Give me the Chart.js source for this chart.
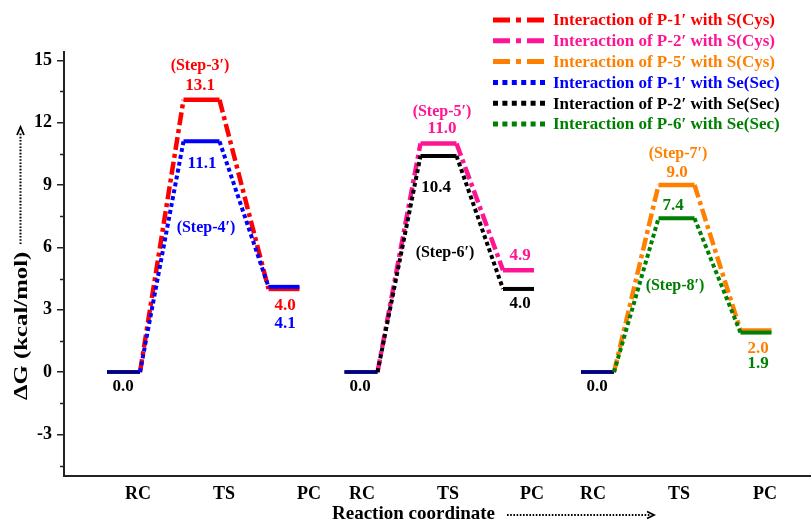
<!DOCTYPE html>
<html>
<head>
<meta charset="utf-8">
<script src="https://cdn.jsdelivr.net/npm/chart.js@4.4.1/dist/chart.umd.min.js"></script>
<style>
  body { margin: 0; background: #fff; }
  #wrap { width: 811px; height: 524px; }
</style>
</head>
<body>
<div id="wrap"><canvas id="myChart"></canvas></div>
<script>
// x axis is an arbitrary reaction coordinate
var categories = ['RC', 'TS', 'PC', 'RC', 'TS', 'PC', 'RC', 'TS', 'PC'];
var categoryPos = [7.4, 16.0, 24.5, 29.8, 38.4, 46.8, 52.9, 61.5, 70.1];
var levelPos = [[5.95, 13.75, 22.0], [29.7, 37.45, 45.45], [53.35, 61.25, 69.2]];
var yTicks = [-3, 0, 3, 6, 9, 12, 15];
var yMinor = [-4.5, -1.5, 1.5, 4.5, 7.5, 10.5, 13.5];

// dG (kcal/mol) at RC, TS, PC
var p1Cys = [0.0, 13.1, 4.0];
var p2Cys = [0.0, 11.0, 4.9];
var p5Cys = [0.0, 9.0, 2.0];
var p1Sec = [0.0, 11.1, 4.1];
var p2Sec = [0.0, 10.4, 4.0];
var p6Sec = [0.0, 7.4, 1.9];

var halfWidth = [1.65, 1.8, 1.55];
var navy = '#000080';
var FONT = '"Liberation Serif", "Times New Roman", serif';

var series = [
    { label: 'Interaction of P-1\u2032 with S(Cys)', values: p1Cys, group: 0, color: '#ff0000', dotted: false },
    { label: 'Interaction of P-2\u2032 with S(Cys)', values: p2Cys, group: 1, color: '#ff1493', dotted: false },
    { label: 'Interaction of P-5\u2032 with S(Cys)', values: p5Cys, group: 2, color: '#ff8000', dotted: false },
    { label: 'Interaction of P-1\u2032 with Se(Sec)', values: p1Sec, group: 0, color: '#0000ff', dotted: true },
    { label: 'Interaction of P-2\u2032 with Se(Sec)', values: p2Sec, group: 1, color: '#000000', dotted: true },
    { label: 'Interaction of P-6\u2032 with Se(Sec)', values: p6Sec, group: 2, color: '#008000', dotted: true }
];

// text labels: [text, colour, x, dG, size]
var notes = [
    ['(Step-3\u2032)', '#ff0000', 13.6, 14.71, 16],
    ['13.1', '#ff0000', 13.6, 13.80, 17],
    ['11.1', '#0000ff', 13.8, 10.04, 17],
    ['(Step-4\u2032)', '#0000ff', 14.2, 6.96, 16],
    ['4.0', '#ff0000', 22.1, 3.21, 17],
    ['4.1', '#0000ff', 22.1, 2.34, 17],
    ['0.0', '#000000', 5.9, -0.69, 17],
    ['(Step-5\u2032)', '#ff1493', 37.8, 12.50, 16],
    ['11.0', '#ff1493', 37.8, 11.73, 17],
    ['10.4', '#000000', 37.2, 8.89, 17],
    ['(Step-6\u2032)', '#000000', 38.1, 5.76, 16],
    ['4.9', '#ff1493', 45.6, 5.62, 17],
    ['4.0', '#000000', 45.6, 3.31, 17],
    ['0.0', '#000000', 29.6, -0.69, 17],
    ['(Step-7\u2032)', '#ff8000', 61.4, 10.52, 16],
    ['9.0', '#ff8000', 61.3, 9.61, 17],
    ['7.4', '#008000', 60.9, 8.02, 17],
    ['(Step-8\u2032)', '#008000', 61.1, 4.17, 16],
    ['2.0', '#ff8000', 69.4, 1.14, 17],
    ['1.9', '#008000', 69.4, 0.42, 17],
    ['0.0', '#000000', 53.3, -0.69, 17]
];

function levelPoints(values, group) {
    var pts = [];
    for (var i = 0; i < values.length; i++) {
        var c = levelPos[group][i];
        pts.push({ x: c - halfWidth[i], y: values[i] });
        pts.push({ x: c + halfWidth[i], y: values[i] });
    }
    return pts;
}

function dashFor(s) {
    return s.dotted ? [4, 3] : [13, 4, 4, 4];
}

var datasets = series.map(function (s) {
    return {
        label: s.label,
        data: levelPoints(s.values, s.group),
        borderColor: s.color,
        borderWidth: s.dotted ? 4 : 4.5,
        borderCapStyle: 'butt',
        pointRadius: 0,
        fill: false,
        tension: 0,
        order: s.dotted ? 0 : 1,
        segment: {
            borderDash: function (ctx) { return ctx.p0DataIndex % 2 === 0 ? [] : dashFor(s); },
            borderColor: function (ctx) { return ctx.p0DataIndex === 0 ? navy : s.color; },
            borderWidth: function (ctx) { return ctx.p0DataIndex === 0 ? 3.5 : undefined; }
        }
    };
});

var extras = {
    id: 'extras',
    afterDraw: function (chart) {
        var ctx = chart.ctx, area = chart.chartArea;
        var xs = chart.scales.x, ys = chart.scales.y;
        ctx.save();

        // minor ticks on y
        ctx.strokeStyle = '#222';
        ctx.lineWidth = 1.5;
        yMinor.forEach(function (v) {
            var py = Math.round(ys.getPixelForValue(v)) + 0.5;
            ctx.beginPath();
            ctx.moveTo(area.left - 4, py);
            ctx.lineTo(area.left, py);
            ctx.stroke();
        });

        // value and step labels
        ctx.textAlign = 'center';
        ctx.textBaseline = 'middle';
        notes.forEach(function (n) {
            ctx.font = 'bold ' + n[4] + 'px ' + FONT;
            ctx.fillStyle = n[1];
            ctx.fillText(n[0], xs.getPixelForValue(n[2]), ys.getPixelForValue(n[3]));
        });

        // legend
        ctx.textAlign = 'left';
        ctx.font = 'bold 17px ' + FONT;
        series.forEach(function (s, i) {
            var y = area.top - 32 + i * 20.8;
            var x0 = area.right - 318;
            ctx.strokeStyle = s.color;
            ctx.lineWidth = 5;
            ctx.lineCap = 'butt';
            ctx.setLineDash(s.dotted ? [5, 4.4] : [17, 6, 5, 6]);
            ctx.beginPath();
            ctx.moveTo(x0, y);
            ctx.lineTo(x0 + 52, y);
            ctx.stroke();
            ctx.setLineDash([]);
            ctx.fillStyle = s.color;
            ctx.fillText(s.label, x0 + 60, y + 1);
        });

        // y title with dotted arrow (text a bit stretched, like the original)
        ctx.fillStyle = '#000';
        ctx.strokeStyle = '#000';
        ctx.save();
        ctx.translate(22, area.top + 348);
        ctx.rotate(-Math.PI / 2);
        ctx.save();
        ctx.scale(1.18, 0.92);
        ctx.font = 'bold 21px ' + FONT;
        ctx.fillText('\u0394G (kcal/mol)', 0, 0);
        ctx.restore();
        ctx.lineWidth = 2;
        ctx.setLineDash([1.6, 1.6]);
        ctx.beginPath();
        ctx.moveTo(156, -1.5);
        ctx.lineTo(268, -1.5);
        ctx.stroke();
        ctx.setLineDash([]);
        ctx.lineWidth = 1.8;
        ctx.beginPath();
        ctx.moveTo(265, -5);
        ctx.lineTo(273, -1.5);
        ctx.lineTo(265, 2);
        ctx.stroke();
        ctx.restore();

        // x title with dotted arrow
        var ty = area.bottom + 38;
        ctx.font = 'bold 19px ' + FONT;
        ctx.fillText('Reaction coordinate', 332, ty);
        ctx.lineWidth = 2;
        ctx.setLineDash([1.6, 1.6]);
        ctx.beginPath();
        ctx.moveTo(507, ty + 1);
        ctx.lineTo(650, ty + 1);
        ctx.stroke();
        ctx.setLineDash([]);
        ctx.lineWidth = 1.8;
        ctx.beginPath();
        ctx.moveTo(647, ty - 2.5);
        ctx.lineTo(654, ty + 1);
        ctx.lineTo(647, ty + 4.5);
        ctx.stroke();

        ctx.restore();
    }
};

var ctx = document.getElementById('myChart').getContext('2d');
var myChart = new Chart(ctx, {
    type: 'line',
    data: { datasets: datasets },
    plugins: [extras],
    options: {
        responsive: true,
        maintainAspectRatio: false,
        animation: false,
        layout: { padding: { top: 52, left: 0, right: 0, bottom: 0 } },
        plugins: { legend: { display: false }, tooltip: { enabled: false } },
        scales: {
            x: {
                type: 'linear',
                min: 0,
                max: 74.7,
                grid: { display: false },
                border: { display: true, color: '#222', width: 2 },
                afterBuildTicks: function (scale) {
                    scale.ticks = categoryPos.map(function (v) { return { value: v }; });
                },
                afterFit: function (scale) { scale.height = 48; },
                ticks: {
                    autoSkip: false,
                    maxRotation: 0,
                    padding: 0,
                    color: '#000',
                    font: { family: FONT, size: 18, weight: 'bold' },
                    callback: function (value, index) { return categories[index]; }
                }
            },
            y: {
                min: -5,
                max: 15.4,
                grid: { display: true, drawOnChartArea: false, tickLength: 7, color: '#222', lineWidth: 1.5 },
                border: { display: true, color: '#222', width: 2 },
                afterBuildTicks: function (scale) {
                    scale.ticks = yTicks.map(function (v) { return { value: v }; });
                },
                afterFit: function (scale) { scale.width = 64; },
                ticks: {
                    padding: 5,
                    color: '#000',
                    font: { family: FONT, size: 18, weight: 'bold' },
                    callback: function (value) { return value; }
                }
            }
        }
    }
});
</script>
</body>
</html>
